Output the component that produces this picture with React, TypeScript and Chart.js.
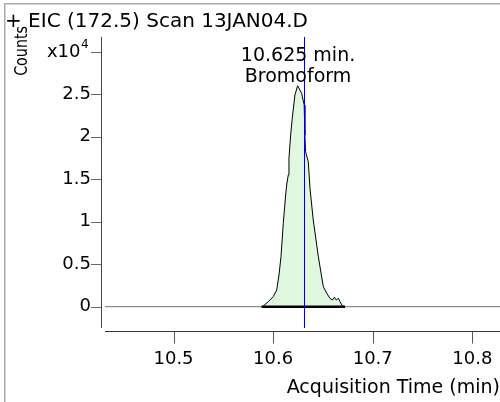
import React, { useEffect, useRef } from 'react';
import { Chart, registerables } from 'chart.js';

Chart.register(...registerables);

const FONT = 'DejaVu Sans';

const chartTitle = '+ EIC (172.5) Scan 13JAN04.D';
const yAxisTitle = 'Counts';
const xAxisTitle = 'Acquisition Time (min)';
const yMultiplierText = 'x10';
const yMultiplierExp = '4';
const yMultiplierValue = 30000;
const peakLabelTime = 10.625;
const peakLabelLines = ['10.625 min.', 'Bromoform'];
const markerTime = 10.6315;

const xRange = [10.4312, 10.8278];
const yRange = [-2506, 31730];
const xTickValues = [10.5, 10.6, 10.7, 10.8];
const xTickLabels = ['10.5', '10.6', '10.7', '10.8'];
const yTickValues = [0, 5000, 10000, 15000, 20000, 25000, 30000];
const yTickLabels = ['0', '0.5', '1', '1.5', '2', '2.5', ''];

const peakTimes = [
  10.5885, 10.5901, 10.5951, 10.6001, 10.6036, 10.6059, 10.6079, 10.6102, 10.6126,
  10.6136, 10.6152, 10.6159, 10.6176, 10.6192, 10.6219, 10.6246, 10.6286, 10.6312,
  10.6319, 10.6326, 10.6353, 10.637, 10.6403, 10.6454, 10.6504, 10.6538, 10.6571,
  10.6595, 10.6615, 10.6635, 10.6655, 10.6672, 10.6689, 10.6705, 10.6722,
];
const peakCounts = [
  0, 80, 590, 1180, 1960, 3730, 5880, 9810, 13140,
  14320, 15490, 17460, 20200, 22160, 24910, 26000, 25110, 23730,
  20200, 18240, 17060, 13930, 10200, 5880, 2350, 1580, 990,
  790, 1110, 790, 990, 590, 200, 80, 0,
];
const integrationRange = [10.5885, 10.6722];

const overlayPlugin = {
  id: 'overlay',
  afterDraw(chart: any) {
    const { ctx, chartArea } = chart;
    const xs = chart.scales.x;
    const ys = chart.scales.y;
    const { left, right, top, bottom } = chartArea;
    ctx.save();
    // frame
    ctx.strokeStyle = '#aaaaaa';
    ctx.lineWidth = 1.5;
    ctx.beginPath();
    ctx.moveTo(4.75, chart.height);
    ctx.lineTo(4.75, 3.75);
    ctx.lineTo(chart.width, 3.75);
    ctx.stroke();

    // title
    ctx.fillStyle = '#000';
    ctx.font = `20px "${FONT}"`;
    ctx.textAlign = 'left';
    ctx.textBaseline = 'middle';
    ctx.fillText(chartTitle, 5, 21.5);

    // y axis line and ticks
    const yAxisX = Math.round(left - 4) + 0.5;
    ctx.strokeStyle = '#444444';
    ctx.lineWidth = 1;
    ctx.beginPath();
    ctx.moveTo(yAxisX, top);
    ctx.lineTo(yAxisX, bottom);
    ctx.stroke();
    ctx.strokeStyle = '#666666';
    ctx.beginPath();
    ys.ticks.forEach((t: any) => {
      const py = Math.round(ys.getPixelForValue(t.value)) + 0.5;
      ctx.moveTo(left - 14, py);
      ctx.lineTo(yAxisX, py);
    });
    ctx.stroke();

    // x axis line and ticks
    const xAxisY = Math.round(bottom + 3) + 0.5;
    ctx.strokeStyle = '#333333';
    ctx.beginPath();
    ctx.moveTo(left, xAxisY);
    ctx.lineTo(right, xAxisY);
    ctx.stroke();
    ctx.strokeStyle = '#555555';
    ctx.beginPath();
    xs.ticks.forEach((t: any) => {
      const px = Math.round(xs.getPixelForValue(t.value)) + 0.5;
      ctx.moveTo(px, xAxisY);
      ctx.lineTo(px, xAxisY + 12);
    });
    ctx.stroke();

    // y multiplier label
    const my = ys.getPixelForValue(yMultiplierValue);
    ctx.fillStyle = '#000';
    ctx.font = `18px "${FONT}"`;
    ctx.textAlign = 'right';
    ctx.textBaseline = 'middle';
    ctx.fillText(yMultiplierText, left - 24.5, my + 1);
    ctx.font = `12px "${FONT}"`;
    ctx.textAlign = 'left';
    ctx.fillText(yMultiplierExp, left - 24, my - 7);

    // y axis title
    ctx.save();
    ctx.translate(23, 26);
    ctx.scale(1, 0.84);
    ctx.rotate(-Math.PI / 2);
    ctx.font = `17px "${FONT}"`;
    ctx.textAlign = 'right';
    ctx.textBaseline = 'middle';
    ctx.fillText(yAxisTitle, 0, 0);
    ctx.restore();

    // peak annotation
    const ax = xs.getPixelForValue(peakLabelTime);
    ctx.font = `19px "${FONT}"`;
    ctx.textAlign = 'center';
    ctx.textBaseline = 'middle';
    ctx.fillText(peakLabelLines[0], ax, 56);
    ctx.fillText(peakLabelLines[1], ax, 77);
    ctx.restore();
  },
};

export default function App() {
  const ref = useRef<HTMLCanvasElement | null>(null);
  useEffect(() => {
    if (!ref.current) return;
    Chart.defaults.font.family = FONT;
    Chart.defaults.color = '#000';
    const chart = new Chart(ref.current, {
      type: 'line',
      data: {
        datasets: [
          {
            label: 'marker',
            data: [
              { x: markerTime, y: yRange[0] },
              { x: markerTime, y: yRange[1] },
            ],
            borderColor: '#0000b0',
            borderWidth: 1,
            pointRadius: 0,
            fill: false,
          },
          {
            label: 'integration',
            data: [
              { x: integrationRange[0], y: 0 },
              { x: integrationRange[1], y: 0 },
            ],
            borderColor: '#000000',
            borderWidth: 2.5,
            pointRadius: 0,
            fill: false,
          },
          {
            label: 'peak',
            data: peakTimes.map((t, i) => ({ x: t, y: peakCounts[i] })),
            borderColor: '#000000',
            borderWidth: 1,
            backgroundColor: '#dff8df',
            pointRadius: 0,
            tension: 0,
            fill: 'origin',
          },
          {
            label: 'baseline',
            data: [
              { x: xRange[0], y: 0 },
              { x: xRange[1], y: 0 },
            ],
            borderColor: '#707070',
            borderWidth: 1,
            pointRadius: 0,
            fill: false,
          },
        ],
      },
      options: {
        animation: false,
        responsive: false,
        devicePixelRatio: 1,
        layout: { padding: { top: 37, left: 0, right: 0, bottom: 0 } },
        plugins: {
          legend: { display: false },
          tooltip: { enabled: false },
          title: { display: false },
        },
        scales: {
          x: {
            type: 'linear',
            min: xRange[0],
            max: xRange[1],
            grid: { display: false, drawTicks: false },
            border: { display: false },
            afterBuildTicks: (s: any) => {
              s.ticks = xTickValues.map((v) => ({ value: v }));
            },
            ticks: {
              padding: 21,
              autoSkip: false,
              maxRotation: 0,
              minRotation: 0,
              font: { size: 18, family: FONT },
              color: '#000',
              callback: (v: any) => {
                const i = xTickValues.indexOf(Number(v));
                return i >= 0 ? xTickLabels[i] : '';
              },
            },
            title: {
              display: true,
              text: xAxisTitle,
              align: 'end',
              font: { size: 19, family: FONT },
              color: '#000',
              padding: { top: 4, bottom: 3 },
            },
            afterFit: (s: any) => {
              s.height = 74;
              s.paddingLeft = 0;
              s.paddingRight = 0;
            },
          },
          y: {
            type: 'linear',
            min: yRange[0],
            max: yRange[1],
            grid: { display: false, drawTicks: false },
            border: { display: false },
            afterBuildTicks: (s: any) => {
              s.ticks = yTickValues.map((v) => ({ value: v }));
            },
            ticks: {
              padding: 14,
              autoSkip: false,
              font: { size: 18, family: FONT },
              color: '#000',
              callback: (v: any) => {
                const i = yTickValues.indexOf(Number(v));
                return i >= 0 ? yTickLabels[i] : '';
              },
            },
            afterFit: (s: any) => {
              s.width = 105;
              s.paddingTop = 0;
              s.paddingBottom = 0;
            },
          },
        },
      },
      plugins: [overlayPlugin],
    });
    return () => chart.destroy();
  }, []);
  return (
    <div style={{ position: 'absolute', left: 0, top: 0, width: 500, height: 402 }}>
      <canvas ref={ref} width={500} height={402} />
    </div>
  );
}
